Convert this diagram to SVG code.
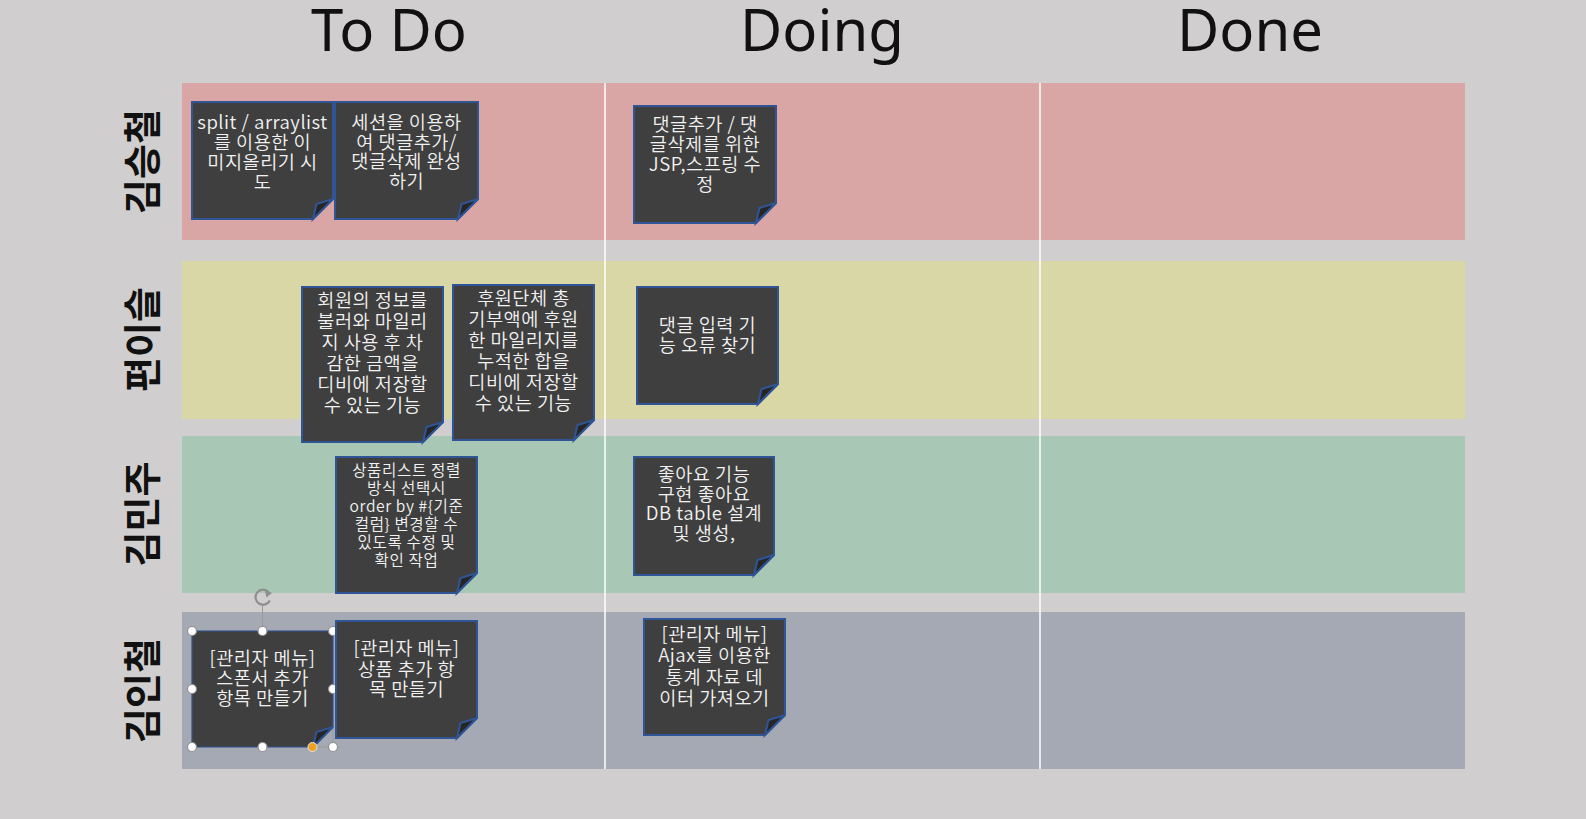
<svg xmlns="http://www.w3.org/2000/svg" width="1586" height="819" viewBox="0 0 1586 819">
  <style>
    .head { font-family: "Noto Sans", "Liberation Sans", sans-serif; font-size: 58px; fill: #111111; text-anchor: middle; }
    .who { font-family: "Noto Sans CJK KR", "Noto Sans", sans-serif; font-size: 38px; font-weight: bold; fill: #111111; text-anchor: middle; dominant-baseline: central; }
    .note { fill: #3f3f3f; stroke: #2f5597; stroke-width: 2; stroke-linejoin: miter; }
    .note.sel { stroke-width: 1.2; }
    .fold { fill: #262626; stroke: #2f5597; stroke-width: 2; stroke-linejoin: miter; }
    .memo { font-family: "Noto Sans CJK KR", "Noto Sans", sans-serif; font-size: 18.6px; font-weight: 350; letter-spacing: 0.5px; fill: #f2f2f2; text-anchor: middle; }
    .memo.small { font-size: 15.6px; letter-spacing: 0.6px; }
    .divider { stroke: #ffffff; stroke-width: 1.5; }
    .handle { fill: #ffffff; stroke: #8f8f8f; stroke-width: 1.2; }
    .frame { fill: none; stroke: #9a9a9a; stroke-width: 1; }
  </style>

  <!-- page -->
  <rect x="0" y="0" width="1586" height="819" fill="#d0cece"/>

  <!-- swimlanes -->
  <g id="lanes">
    <rect x="182" y="83" width="1283" height="157" fill="#d9a6a5"/>
    <rect x="182" y="261" width="1283" height="158" fill="#d9d7a6"/>
    <rect x="182" y="436" width="1283" height="157" fill="#a8c7b4"/>
    <rect x="182" y="612" width="1283" height="157" fill="#a4a9b4"/>
  </g>

  <!-- column separators -->
  <g id="connectors">
    <line class="divider" x1="605" y1="83" x2="605" y2="769"/>
    <line class="divider" x1="1040" y1="83" x2="1040" y2="769"/>
  </g>

  <!-- column headings -->
  <g id="headings">
    <text class="head" x="389" y="51">To Do</text>
    <text class="head" x="822" y="51">Doing</text>
    <text class="head" x="1250" y="51">Done</text>
  </g>

  <!-- lane owners -->
  <g id="owners">
    <text class="who" transform="translate(139,161.5) rotate(-90)">김승철</text>
    <text class="who" transform="translate(139,339.5) rotate(-90)">편이슬</text>
    <text class="who" transform="translate(139,514) rotate(-90)">김민주</text>
    <text class="who" transform="translate(139,690.5) rotate(-90)">김인철</text>
  </g>

  <!-- 김승철 / To Do -->
  <g id="note-split-arraylist" transform="translate(192,102)">
    <path class="note" d="M0,0 H141 V97 L121,117 H0 Z"/>
    <path class="fold" d="M141,97 L124.5,102 L121,117 Z"/>
    <text class="memo" y="26.7"><tspan x="70.5">split / arraylist</tspan><tspan x="70.5" dy="20">를 이용한 이</tspan><tspan x="70.5" dy="20">미지올리기 시</tspan><tspan x="70.5" dy="20">도</tspan></text>
  </g>
  <g id="note-session-comment" transform="translate(335,102)">
    <path class="note" d="M0,0 H143 V97 L123,117 H0 Z"/>
    <path class="fold" d="M143,97 L126.5,102 L123,117 Z"/>
    <text class="memo" y="26.7"><tspan x="71.5">세션을 이용하</tspan><tspan x="71.5" dy="19.8">여 댓글추가/</tspan><tspan x="71.5" dy="19.8">댓글삭제 완성</tspan><tspan x="71.5" dy="19.8">하기</tspan></text>
  </g>

  <!-- 김승철 / Doing -->
  <g id="note-comment-jsp" transform="translate(634,106)">
    <path class="note" d="M0,0 H142 V97 L122,117 H0 Z"/>
    <path class="fold" d="M142,97 L125.5,102 L122,117 Z"/>
    <text class="memo" y="25"><tspan x="71">댓글추가 / 댓</tspan><tspan x="71" dy="20">글삭제를 위한</tspan><tspan x="71" dy="20">JSP,스프링 수</tspan><tspan x="71" dy="20">정</tspan></text>
  </g>

  <!-- 편이슬 / To Do -->
  <g id="note-member-mileage" transform="translate(302,287)">
    <path class="note" d="M0,0 H141 V135 L121,155 H0 Z"/>
    <path class="fold" d="M141,135 L124.5,140 L121,155 Z"/>
    <text class="memo" y="20.4"><tspan x="70.5">회원의 정보를</tspan><tspan x="70.5" dy="20.9">불러와 마일리</tspan><tspan x="70.5" dy="20.9">지 사용 후 차</tspan><tspan x="70.5" dy="20.9">감한 금액을</tspan><tspan x="70.5" dy="20.9">디비에 저장할</tspan><tspan x="70.5" dy="20.9">수 있는 기능</tspan></text>
  </g>
  <g id="note-sponsor-total" transform="translate(453,285)">
    <path class="note" d="M0,0 H141 V135 L121,155 H0 Z"/>
    <path class="fold" d="M141,135 L124.5,140 L121,155 Z"/>
    <text class="memo" y="20"><tspan x="70.5">후원단체 총</tspan><tspan x="70.5" dy="21">기부액에 후원</tspan><tspan x="70.5" dy="21">한 마일리지를</tspan><tspan x="70.5" dy="21">누적한 합을</tspan><tspan x="70.5" dy="21">디비에 저장할</tspan><tspan x="70.5" dy="21">수 있는 기능</tspan></text>
  </g>

  <!-- 편이슬 / Doing -->
  <g id="note-comment-bug" transform="translate(637,287)">
    <path class="note" d="M0,0 H141 V97 L121,117 H0 Z"/>
    <path class="fold" d="M141,97 L124.5,102 L121,117 Z"/>
    <text class="memo" y="44.7"><tspan x="70.5">댓글 입력 기</tspan><tspan x="70.5" dy="20">능 오류 찾기</tspan></text>
  </g>

  <!-- 김민주 / To Do -->
  <g id="note-product-sort" transform="translate(336,457)">
    <path class="note" d="M0,0 H141 V116 L121,136 H0 Z"/>
    <path class="fold" d="M141,116 L124.5,121 L121,136 Z"/>
    <text class="memo small" y="18.6"><tspan x="70.5">상품리스트 정렬</tspan><tspan x="70.5" dy="18">방식 선택시</tspan><tspan x="70.5" dy="18">order by #{기준</tspan><tspan x="70.5" dy="18">컬럼} 변경할 수</tspan><tspan x="70.5" dy="18">있도록 수정 및</tspan><tspan x="70.5" dy="18">확인 작업</tspan></text>
  </g>

  <!-- 김민주 / Doing -->
  <g id="note-like-table" transform="translate(634,457)">
    <path class="note" d="M0,0 H140 V98 L120,118 H0 Z"/>
    <path class="fold" d="M140,98 L123.5,103 L120,118 Z"/>
    <text class="memo" y="23.7"><tspan x="70">좋아요 기능</tspan><tspan x="70" dy="19.8">구현 좋아요</tspan><tspan x="70" dy="19.8">DB table 설계</tspan><tspan x="70" dy="19.8">및 생성,</tspan></text>
  </g>

  <!-- 김인철 / To Do (selected shape) -->
  <g id="note-admin-sponsor" transform="translate(192,631)">
    <rect class="frame" x="0" y="0" width="141" height="116"/>
    <path class="note sel" d="M0,0 H141 V96 L121,116 H0 Z"/>
    <path class="fold" d="M141,96 L124.5,101 L121,116 Z" stroke-width="1.2"/>
    <text class="memo" y="34"><tspan x="70.5">[관리자 메뉴]</tspan><tspan x="70.5" dy="20">스폰서 추가</tspan><tspan x="70.5" dy="20">항목 만들기</tspan></text>
    <!-- rotate grip -->
    <line x1="70.5" y1="-26" x2="70.5" y2="-4" stroke="#9a9a9a" stroke-width="1"/>
    <path d="M76.5,-39 A7.5,7.5 0 1,0 77.8,-30.5" fill="none" stroke="#8f8f8f" stroke-width="2.2"/>
    <path d="M72.5,-41.5 L80,-38 L74.5,-33.5 Z" fill="#8f8f8f"/>
    <!-- sizing handles -->
    <circle class="handle" cx="0" cy="0" r="4.5"/>
    <circle class="handle" cx="70.5" cy="0" r="4.5"/>
    <circle class="handle" cx="141" cy="0" r="4.5"/>
    <circle class="handle" cx="0" cy="58" r="4.5"/>
    <circle class="handle" cx="141" cy="58" r="4.5"/>
    <circle class="handle" cx="0" cy="116" r="4.5"/>
    <circle class="handle" cx="70.5" cy="116" r="4.5"/>
    <circle class="handle" cx="141" cy="116" r="4.5"/>
    <circle cx="120.5" cy="116" r="4.5" fill="#f0a020" stroke="#e8e8e8" stroke-width="1"/>
  </g>
  <g id="note-admin-product" transform="translate(336,621)">
    <path class="note" d="M0,0 H141 V97 L121,117 H0 Z"/>
    <path class="fold" d="M141,97 L124.5,102 L121,117 Z"/>
    <text class="memo" y="34"><tspan x="70.5">[관리자 메뉴]</tspan><tspan x="70.5" dy="20.5">상품 추가 항</tspan><tspan x="70.5" dy="20.5">목 만들기</tspan></text>
  </g>

  <!-- 김인철 / Doing -->
  <g id="note-admin-ajax" transform="translate(644,619)">
    <path class="note" d="M0,0 H141 V96 L121,116 H0 Z"/>
    <path class="fold" d="M141,96 L124.5,101 L121,116 Z"/>
    <text class="memo" y="21.7"><tspan x="70.5">[관리자 메뉴]</tspan><tspan x="70.5" dy="21.4">Ajax를 이용한</tspan><tspan x="70.5" dy="21.4">통계 자료 데</tspan><tspan x="70.5" dy="21.4">이터 가져오기</tspan></text>
  </g>
</svg>
